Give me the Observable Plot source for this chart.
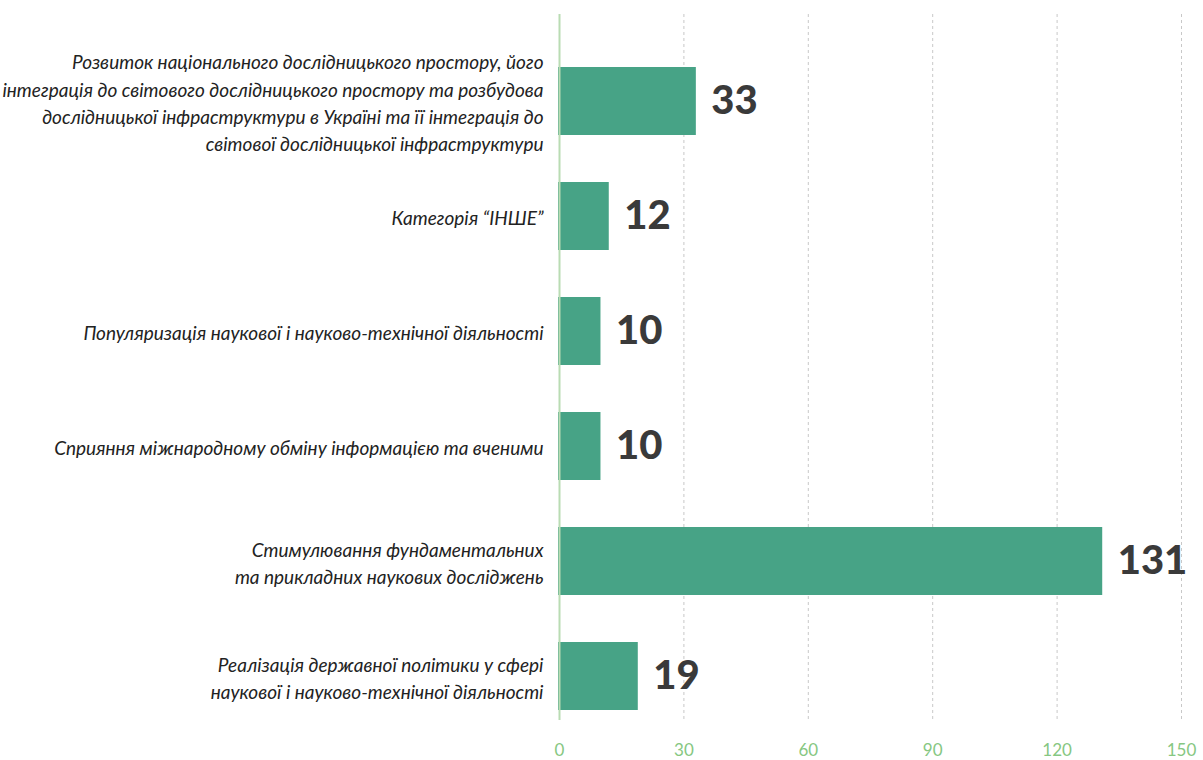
<!DOCTYPE html>
<html>
<head>
<meta charset="utf-8">
<script src="https://cdn.jsdelivr.net/npm/d3@7"></script>
<script src="https://cdn.jsdelivr.net/npm/@observablehq/plot@0.6"></script>
<style>
  html, body { margin: 0; padding: 0; background: #fff; }
  #chart { width: 1203px; height: 760px; }
</style>
</head>
<body>
<div id="chart"></div>
<script>
const categories = [
  "Розвиток національного дослідницького простору, його\nінтеграція до світового дослідницького простору та розбудова\nдослідницької інфраструктури в Україні та її інтеграція до\nсвітової дослідницької інфраструктури",
  "Категорія “ІНШЕ”",
  "Популяризація наукової і науково-технічної діяльності",
  "Сприяння міжнародному обміну інформацією та вченими",
  "Стимулювання фундаментальних\nта прикладних наукових досліджень",
  "Реалізація державної політики у сфері\nнаукової і науково-технічної діяльності"
];
const values = [33, 12, 10, 10, 131, 19];
const xTicks = [0, 30, 60, 90, 120, 150];
const gridTicks = [30, 60, 90, 120, 150];

const data = categories.map((c, i) => ({category: c, value: values[i]}));

const chart = Plot.plot({
  width: 1203,
  height: 760,
  marginTop: 14,
  marginBottom: 40,
  marginLeft: 559,
  marginRight: 22,
  style: {fontFamily: "Lato, sans-serif", background: "#fff"},
  x: {domain: [0, 150], ticks: xTicks, axis: null},
  y: {domain: categories, paddingInner: 0.412, paddingOuter: 0.26, align: 0.83, axis: null},
  marks: [
    Plot.ruleX(gridTicks, {stroke: "#c8c8c8", strokeDasharray: "3,3", strokeWidth: 1}),
    Plot.barX(data, {y: "category", x: "value", fill: "#47a386", insetLeft: -1}),
    Plot.ruleX([0], {stroke: "#b9dcb3", strokeWidth: 2}),
    Plot.axisX(xTicks, {anchor: "bottom", tickSize: 0, tickPadding: 23, fontSize: 17, fontWeight: 400, fill: "#86c782", fontFamily: "Lato, sans-serif", label: null}),
    Plot.text(data, {y: "category", x: "value", text: d => String(d.value), dx: 15, textAnchor: "start", fontSize: 40, fontWeight: 900, fill: "#3a3a3a", fontFamily: "Lato, sans-serif"}),
    Plot.text(data, {y: "category", frameAnchor: "left", text: "category", textAnchor: "end", dx: -16, lineHeight: 1.44, fontSize: 19, fontStyle: "italic", fill: "#222", fontFamily: "Lato, sans-serif"})
  ]
});
document.getElementById("chart").appendChild(chart);
</script>
</body>
</html>
